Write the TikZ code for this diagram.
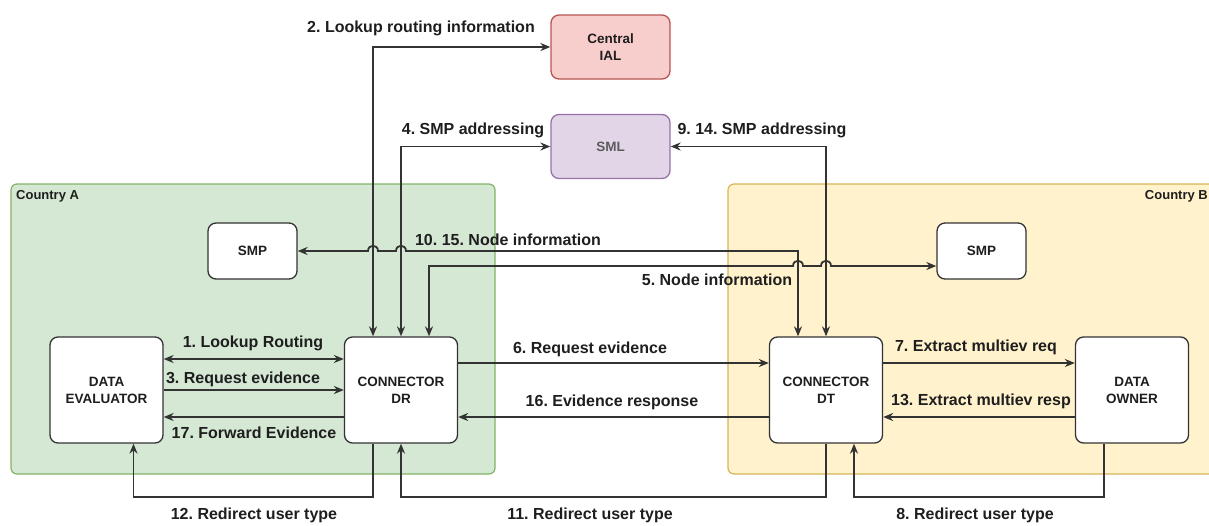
\documentclass[tikz,border=0pt]{standalone}
\usepackage{fontspec}
\setmainfont{Liberation Sans}
\usepackage{xcolor}
\usepackage{tikz}
\usetikzlibrary{positioning,arrows.meta,calc}
\frenchspacing

\definecolor{lineg}{HTML}{333333}
\definecolor{txtg}{HTML}{1E1E1E}
\definecolor{greenfill}{HTML}{D5E8D4}
\definecolor{greenline}{HTML}{82B366}
\definecolor{yellowfill}{HTML}{FFF2CC}
\definecolor{yellowline}{HTML}{D6B656}
\definecolor{redfill}{HTML}{F8CECC}
\definecolor{redline}{HTML}{B85450}
\definecolor{purplefill}{HTML}{E1D5E7}
\definecolor{purpleline}{HTML}{9673A6}

\begin{document}
\begin{tikzpicture}[x=1pt,y=-1pt,>={Stealth[length=10pt,width=8pt]}]
  \tikzstyle{box}=[draw=lineg,line width=1.3pt,fill=white,rounded corners=8pt,inner sep=0pt,align=center,text=txtg,font=\fontsize{13.5}{17}\selectfont\bfseries,minimum width=113pt,minimum height=106pt]
  \tikzstyle{ext}=[box,minimum width=119pt,minimum height=64pt]
  \tikzstyle{smp}=[box,minimum width=89pt,minimum height=56pt]
  \tikzstyle{lbl}=[inner sep=0pt,text=txtg,font=\fontsize{16}{19}\selectfont\bfseries]
  \tikzstyle{conn}=[draw=lineg,line width=1.8pt]
  \tikzstyle{country}=[line width=1.2pt,rounded corners=6pt,minimum height=290pt]

  \useasboundingbox (0,0) rectangle (1209,525);

  % countries
  \node[country,draw=greenline,fill=greenfill,minimum width=484pt] (ctya) at (253,329) {};
  \node[country,draw=yellowline,fill=yellowfill,minimum width=492pt] (ctyb) at (974,329) {};
  \node[lbl,font=\fontsize{13}{15}\selectfont\bfseries,anchor=west] (namea) at (16,196) {Country A};
  \node[lbl,font=\fontsize{13}{15}\selectfont\bfseries,anchor=east] (nameb) at (1208,196) {Country B};

  \node[ext,fill=redfill,draw=redline] (ial) at (610.5,47) {Central\\IAL};
  \node[ext,fill=purplefill,draw=purpleline,text=lineg!80] (sml) at (610.5,146.5) {SML};
  \node[smp] (smpa) at (252.5,251) {SMP};
  \node[smp] (smpb) at (981.5,251) {SMP};
  \node[box] (ev) at (106.5,390) {DATA\\EVALUATOR};
  \node[box] (cdr) at (401,390) {CONNECTOR\\DR};
  \node[box] (cdt) at (826,390) {CONNECTOR\\DT};
  \node[box] (own) at (1132,390) {DATA\\OWNER};

  \coordinate (drl) at ([xshift=-28pt]cdr.north);
  \coordinate (drr) at ([xshift=28pt]cdr.north);
  \coordinate (dtl) at ([xshift=-28pt]cdt.north);
  \coordinate (n5) at ([yshift=-15pt]smpb.west);
  \coordinate (floor) at (0,497);
  \coordinate (drb) at ([xshift=-28pt]cdr.south);
  \coordinate (owb) at ([xshift=-28pt]own.south);

  % lookups
  \draw[conn,<->] (drl) |- (ial.west);
  \draw[conn,<->] (cdr.north) |- (sml.west);
  \draw[conn,<->] (cdt.north) |- (sml.east);
  \draw[conn,<->] (dtl) |- ($(cdr.north|-smpa.east)+(5,0)$) .. controls +(0,-7) and +(0,-7) .. ($(cdr.north|-smpa.east)+(-5,0)$) -- ($(drl|-smpa.east)+(5,0)$) .. controls +(0,-7) and +(0,-7) .. ($(drl|-smpa.east)+(-5,0)$) -- (smpa.east);
  \draw[conn,<->] (drr) |- ($(dtl|-n5)+(-5,0)$) .. controls +(0,-7) and +(0,-7) .. ($(dtl|-n5)+(5,0)$) -- ($(cdt.north|-n5)+(-5,0)$) .. controls +(0,-7) and +(0,-7) .. ($(cdt.north|-n5)+(5,0)$) -- (n5);

  % evidence
  \draw[conn,<->] ([yshift=31pt]ev.east) -- ([yshift=31pt]cdr.west);
  \draw[conn,->] (ev.east) -- (cdr.west);
  \draw[conn,->] ([yshift=-27pt]cdr.west) -- ([yshift=-27pt]ev.east);
  \draw[conn,->] ([yshift=27pt]cdr.east) -- ([yshift=27pt]cdt.west);
  \draw[conn,->] ([yshift=-27pt]cdt.west) -- ([yshift=-27pt]cdr.east);
  \draw[conn,->] ([yshift=27pt]cdt.east) -- ([yshift=27pt]own.west);
  \draw[conn,->] ([yshift=-27pt]own.west) -- ([yshift=-27pt]cdt.east);

  % redirects
  \draw[conn,->] (drb) -- (drb|-floor) -| ([xshift=27pt]ev.south);
  \draw[conn,->] (cdt.south) -- (cdt.south|-floor) -| (cdr.south);
  \draw[conn,->] (owb) -- (owb|-floor) -| ([xshift=28pt]cdt.south);

  \node[lbl] (l2) at (421,28) {2. Lookup routing information};
  \node[lbl] (l4) at (473,130) {4. SMP addressing};
  \node[lbl] (l914) at (762,130) {9. 14. SMP addressing};
  \node[lbl] (l1015) at (508,240) {10. 15. Node information};
  \node[lbl] (l5) at (717,280) {5. Node information};
  \node[lbl] (l1) at (253,343) {1. Lookup Routing};
  \node[lbl] (l3) at (243,379) {3. Request evidence};
  \node[lbl] (l17) at (254,433) {17. Forward Evidence};
  \node[lbl] (l6) at (590,349) {6. Request evidence};
  \node[lbl] (l16) at (612,402) {16. Evidence response};
  \node[lbl] (l7) at (976,347) {7. Extract multiev req};
  \node[lbl] (l13) at (981,401) {13. Extract multiev resp};
  \node[lbl] (l12) at (254,515) {12. Redirect user type};
  \node[lbl] (l11) at (590,515) {11. Redirect user type};
  \node[lbl] (l8) at (975,515) {8. Redirect user type};
\end{tikzpicture}
\end{document}
